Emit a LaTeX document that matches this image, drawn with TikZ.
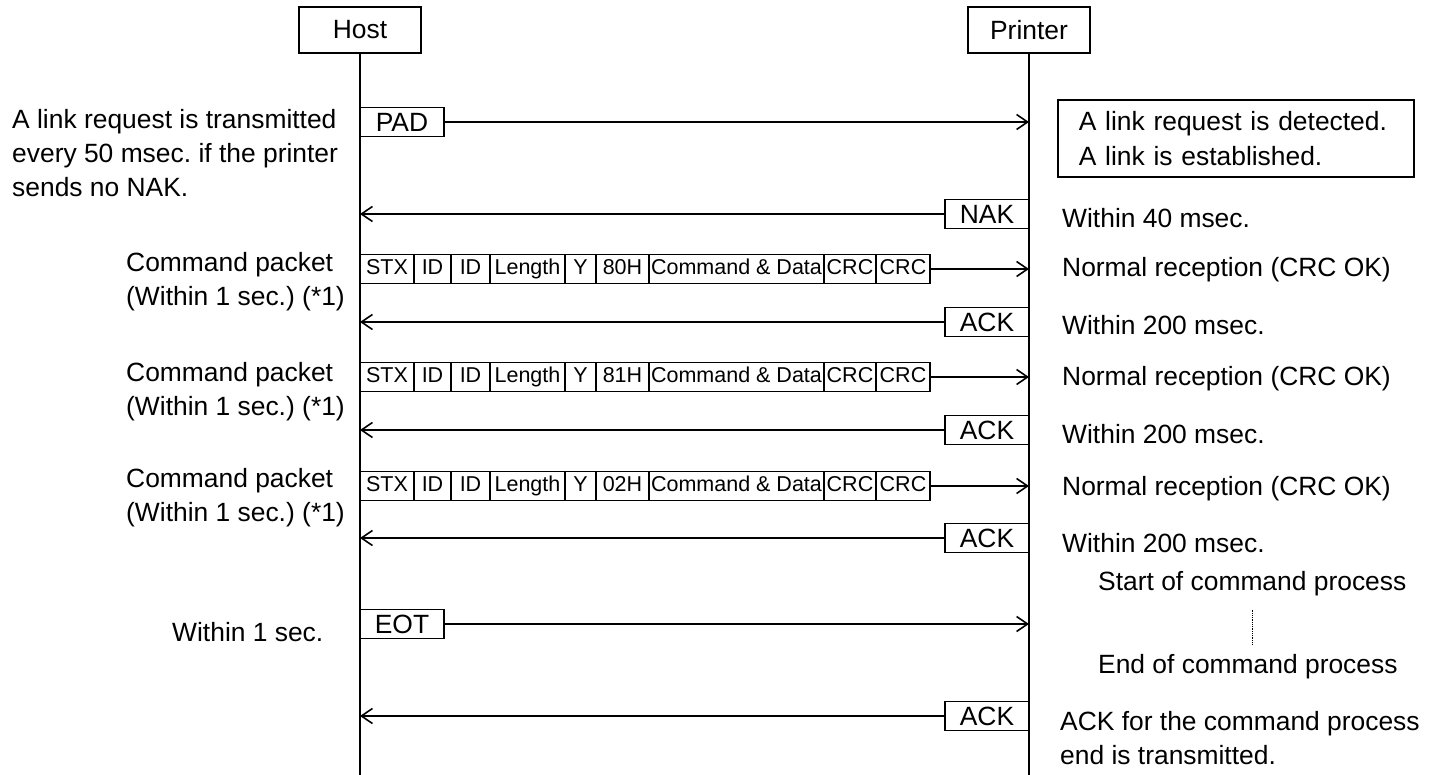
\documentclass[tikz,border=0pt]{standalone}
\usepackage{fontspec}
\setmainfont{Liberation Sans}
\usetikzlibrary{arrows.meta,positioning}
\frenchspacing

\tikzset{
  txt/.style={font=\fontsize{26.4}{34}\selectfont, inner sep=0pt, align=left},
  headbox/.style={draw, line width=1.6pt, minimum width=122pt, minimum height=46pt, inner sep=0pt, font=\fontsize{26.4}{34}\selectfont},
  sigbox/.style={draw, line width=1.6pt, minimum width=84pt, minimum height=29pt, inner sep=0pt, outer sep=0pt,
    text height=19pt, text depth=0pt, font=\fontsize{26.4}{34}\selectfont},
  cell/.style={draw, line width=1.4pt, minimum height=29pt, inner sep=0pt, outer sep=0pt,
    text height=15.5pt, text depth=4.5pt, font=\fontsize{21.5}{24}\selectfont},
  life/.style={line width=1.6pt},
  msg/.style={line width=1.6pt, -{Straight Barb[length=11pt,width=15pt]}},
}

\begin{document}
\begin{tikzpicture}[x=1pt, y=-1pt]

\useasboundingbox (0,0) rectangle (1441,775);

% --- Lifelines ---
\node[headbox] (host) at (360,30) {Host};
\node[headbox] (printer) at (1029,30) {Printer};
\coordinate (hostend) at (360,775);
\coordinate (printerend) at (1029,775);
\draw[life] (host) -- (hostend);
\draw[life] (printer) -- (printerend);

% --- Define packet row ---
\def\packetrow#1#2#3{
  \node[cell, anchor=west, minimum width=54pt] (#1stx) at (360,#2) {STX};
  \node[cell, right=0pt of #1stx, minimum width=37pt] (#1ida) {ID};
  \node[cell, right=0pt of #1ida, minimum width=39pt] (#1idb) {ID};
  \node[cell, right=0pt of #1idb, minimum width=75pt] (#1len) {Length};
  \node[cell, right=0pt of #1len, minimum width=31pt] (#1y) {Y};
  \node[cell, right=0pt of #1y, minimum width=53pt] (#1code) {#3};
  \node[cell, right=0pt of #1code, minimum width=175pt] (#1data) {Command \& Data};
  \node[cell, right=0pt of #1data, minimum width=52pt] (#1crca) {CRC};
  \node[cell, right=0pt of #1crca, minimum width=54pt] (#1crcb) {CRC};
  \draw[msg] (#1crcb.east) -- (#1crcb.east -| printer); % to printer
}

% --- Link request ---
\node[sigbox, anchor=west] (pad) at (360,122) {PAD};
\draw[msg] (pad.east) -- (pad.east -| printer);
\node[txt, anchor=west] (padnote) at (12,153) {A link request is transmitted\\every 50 msec. if the printer\\sends no NAK.};
\node[draw, line width=1.6pt, anchor=north west, inner xsep=21pt, inner ysep=0pt,
  text width=314pt, minimum height=77pt, align=left, font=\fontsize{26.4}{35}\selectfont]
  (linkbox) at (1057,99) {A link request is detected.\\A link is established.};

\node[sigbox, anchor=east] (nak) at (1029,214) {NAK};
\draw[msg] (nak.west) -- (nak.west -| host);
\node[txt, anchor=west] (naknote) at (1062,218) {Within 40 msec.};

% --- Command packets ---
\packetrow{pa}{269}{80H}
\node[txt, anchor=west] (panote) at (126,282) {Command packet\\(Within 1 sec.) (*1)};
\node[txt, anchor=west] (parecv) at (1062,270) {Normal reception (CRC OK)};
\node[sigbox, anchor=east] (acka) at (1029,322) {ACK};
\draw[msg] (acka.west) -- (acka.west -| host);
\node[txt, anchor=west] (ackanote) at (1062,325) {Within 200 msec.};

\packetrow{pb}{377}{81H}
\node[txt, anchor=west] (pbnote) at (126,392) {Command packet\\(Within 1 sec.) (*1)};
\node[txt, anchor=west] (pbrecv) at (1062,379) {Normal reception (CRC OK)};
\node[sigbox, anchor=east] (ackb) at (1029,430) {ACK};
\draw[msg] (ackb.west) -- (ackb.west -| host);
\node[txt, anchor=west] (ackbnote) at (1062,434) {Within 200 msec.};

\packetrow{pc}{486}{02H}
\node[txt, anchor=west] (pcnote) at (126,498) {Command packet\\(Within 1 sec.) (*1)};
\node[txt, anchor=west] (pcrecv) at (1062,489) {Normal reception (CRC OK)};
\node[sigbox, anchor=east] (ackc) at (1029,538) {ACK};
\draw[msg] (ackc.west) -- (ackc.west -| host);
\node[txt, anchor=west] (ackcnote) at (1062,543) {Within 200 msec.};

% --- End of transmission ---
\node[sigbox, anchor=west] (eot) at (360,624) {EOT};
\draw[msg] (eot.east) -- (eot.east -| printer);
\node[txt, anchor=west] (eotnote) at (172,632) {Within 1 sec.};

\node[txt, anchor=west] (procstart) at (1098,584) {Start of command process};
\node[txt, anchor=west] (procend) at (1098,667) {End of command process};
\draw[densely dotted, line width=0.8pt] ([yshift=-13pt]procstart.south) -- ([yshift=9pt]procstart.south |- procend.north);

\node[sigbox, anchor=east] (ackd) at (1029,716) {ACK};
\draw[msg] (ackd.west) -- (ackd.west -| host);
\node[txt, anchor=west] (ackdnote) at (1060,738) {ACK for the command process\\end is transmitted.};

\end{tikzpicture}
\end{document}
